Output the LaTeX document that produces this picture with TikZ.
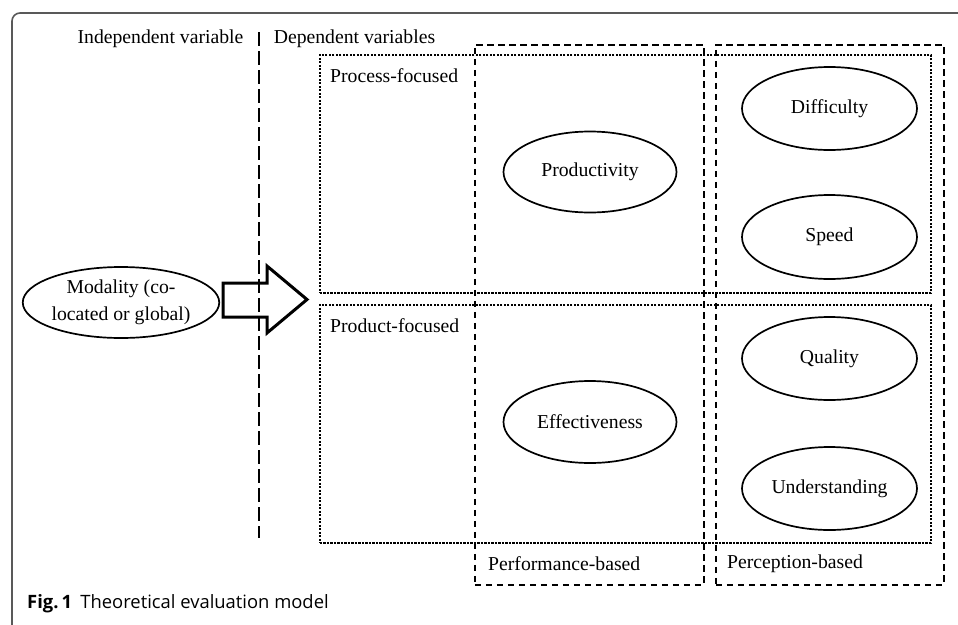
\documentclass[tikz,border=0pt]{standalone}
\usepackage{fontspec}
\setmainfont{Liberation Serif}
\newfontfamily\capfont{Open Sans}
\usetikzlibrary{shapes.geometric}
\begin{document}
\begin{tikzpicture}[x=1pt,y=-1pt,
  lbl/.style={font=\fontsize{19.7}{24}\selectfont, inner sep=0pt},
  ell/.style={draw, ellipse, line width=1.7pt, inner sep=0pt, font=\fontsize{19.7}{27}\selectfont, align=center},
  dashbox/.style={draw, line width=1.7pt, dash pattern=on 6.5pt off 4.5pt, inner sep=0pt, anchor=north west},
  dotbox/.style={draw, line width=1.6pt, dash pattern=on 2.2pt off 1.3pt, inner sep=0pt, anchor=north west},
  frameline/.style={line width=1.6pt, draw=black!65, rounded corners=8pt},
  blockarrow/.style={line width=3pt, line join=miter},
  divider/.style={line width=1.6pt, dash pattern=on 14pt off 5pt},
]
\useasboundingbox (0,0) rectangle (958,624);
% frame
\draw[frameline] (12,630) -- (12,13) -- (965,13);
% boxes
\node[dashbox, minimum width=229pt, minimum height=540pt] (perf) at (474,44) {};
\node[dashbox, minimum width=228pt, minimum height=540pt] (perc) at (715,44) {};
\node[dotbox, minimum width=611pt, minimum height=238pt] (proc) at (319,54) {};
\node[dotbox, minimum width=611pt, minimum height=238pt] (prodf) at (319,304) {};
% divider
\coordinate (vtop) at (259,32);
\coordinate (vbot) at (259,538);
\draw[divider] (vtop) -- (vbot);
% labels
\node[lbl, anchor=base] (indep) at (160.5,43) {Independent variable};
\node[lbl, anchor=base] (dep) at (354.5,43) {Dependent variables};
\node[lbl, anchor=base west] (procl) at (330,82) {Process-focused};
\node[lbl, anchor=base west] (prodl) at (330,332) {Product-focused};
\node[lbl, anchor=base west] (perfl) at (488,570) {Performance-based};
\node[lbl, anchor=base west] (percl) at (727,568) {Perception-based};
% ellipses
\node[ell, minimum width=168pt, minimum height=71pt] (mod) at (121,302.5) {Modality (co-\\located or global)};
\node[ell, minimum width=173pt, minimum height=81pt] (prod) at (590,172) {Productivity};
\node[ell, minimum width=173pt, minimum height=82pt] (eff) at (590,422) {Effectiveness};
\node[ell, minimum width=175pt, minimum height=83pt] (diff) at (829.5,108.5) {Difficulty};
\node[ell, minimum width=175pt, minimum height=84pt] (speed) at (829.5,237) {Speed};
\node[ell, minimum width=175pt, minimum height=83pt] (qual) at (829.5,358.5) {Quality};
\node[ell, minimum width=175pt, minimum height=83pt] (und) at (829.5,488.5) {Understanding};
% block arrow
\draw[blockarrow] (223,283) -- (267,283) -- (267,266) -- (307,299.5) -- (267,333) -- (267,317) -- (223,317) -- cycle;
% caption
\node[inner sep=0pt, anchor=base west, font=\capfont\fontsize{18.4}{22}\selectfont] (cap) at (27,608) {\textbf{Fig.\,1}\hspace{0.45em}Theoretical evaluation model};
\end{tikzpicture}
\end{document}
